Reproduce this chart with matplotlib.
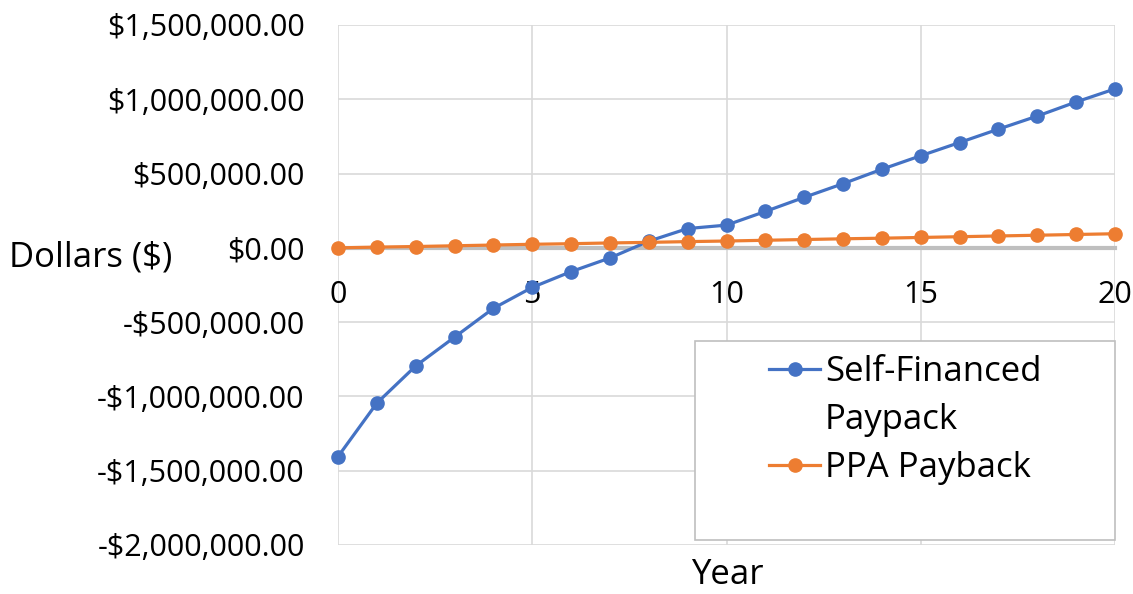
import matplotlib.pyplot as plt
from matplotlib.lines import Line2D
from matplotlib.patches import Rectangle
from matplotlib.ticker import FuncFormatter, MultipleLocator

plt.rcParams['font.family'] = ['Open Sans', 'DejaVu Sans']

# Cumulative payback by year
years = list(range(21))
self_financed = [-1405000, -1045000, -795000, -601000, -407000, -266000,
                 -160000, -68000, 45000, 130000, 153000, 245000, 340000,
                 432000, 529000, 620000, 709000, 799000, 887000, 982000,
                 1070000]
ppa = [0, 5000, 9000, 14000, 19000, 24000, 28000, 33000, 37000, 42000,
       46000, 51000, 56000, 61000, 65000, 70000, 75000, 80000, 85000,
       90000, 95000]

blue = '#4472C4'
orange = '#ED7D31'
tick_fs = 22
label_fs = 25

fig = plt.figure(figsize=(11.33, 5.94), dpi=100)
ax = fig.add_axes([338 / 1133, 49 / 594, 777 / 1133, 520 / 594])

sf_line, = ax.plot(years, self_financed, color=blue, lw=2.3, marker='o', ms=9.5,
                   zorder=4, clip_on=False)
ppa_line, = ax.plot(years, ppa, color=orange, lw=2.3, marker='o', ms=9.5,
                    zorder=4, clip_on=False)

ax.set_xlim(0, 20)
ax.set_ylim(-2000000, 1500000)
ax.xaxis.set_major_locator(MultipleLocator(5))
ax.yaxis.set_major_locator(MultipleLocator(500000))


def dollars(v, pos):
    s = '${:,.2f}'.format(abs(v))
    return '-' + s if v < 0 else s


ax.yaxis.set_major_formatter(FuncFormatter(dollars))
ax.grid(True, color='#D9D9D9', lw=1.2)
ax.set_axisbelow(True)

for side in ['top', 'right', 'left']:
    ax.spines[side].set_visible(False)
ax.spines['bottom'].set_position(('data', 0))
ax.spines['bottom'].set_color('#BFBFBF')
ax.spines['bottom'].set_linewidth(3)
ax.spines['bottom'].set_zorder(3)

ax.tick_params(axis='both', length=0, labelsize=tick_fs, colors='black')
ax.tick_params(axis='x', pad=23)
ax.tick_params(axis='y', pad=24)

ax.set_xlabel('Year', fontsize=label_fs, va='center')
ax.xaxis.set_label_coords(727 / 1133, 19 / 594, transform=fig.transFigure)
ax.set_ylabel('Dollars ($)', fontsize=label_fs, rotation=0, ha='left', va='center')
ax.yaxis.set_label_coords(9 / 1133, (594 - 258) / 594, transform=fig.transFigure)

# legend box sits over the lower right of the plot
box = Rectangle((695 / 1133, 54 / 594), 420 / 1133, 199 / 594,
                transform=fig.transFigure, facecolor='white',
                edgecolor='#BFBFBF', lw=1.2, zorder=5)
fig.patches.append(box)

# the wrapped label keeps its marker on the first line
wrap = Line2D([], [], linestyle='none')
leg = fig.legend([sf_line, wrap, ppa_line],
                 ['Self-Financed', 'Paypack', 'PPA Payback'],
                 loc='upper left', bbox_to_anchor=(752 / 1133, (594 - 338) / 594),
                 frameon=False, fontsize=label_fs, handlelength=1.45,
                 handletextpad=0.15, labelspacing=0.4, borderpad=0)
leg.set_zorder(6)

fig.savefig('out.png', dpi=100)
